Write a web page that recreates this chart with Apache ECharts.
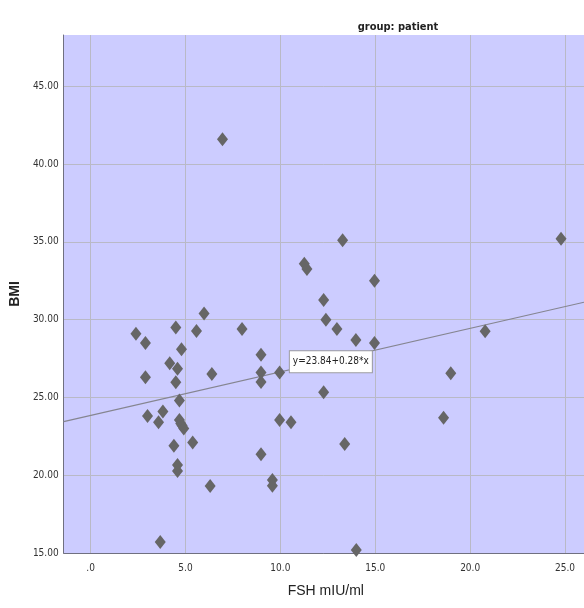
<!DOCTYPE html>
<html>
<head>
<meta charset="utf-8">
<script src="https://cdn.jsdelivr.net/npm/echarts@6/dist/echarts.min.js"></script>
<style>
  html, body { margin: 0; padding: 0; background: #fff; }
  #chart { width: 584px; height: 608px; }
</style>
</head>
<body>
<div id="chart"></div>
<script>
// FSH (mIU/ml) vs BMI, group: patient
var fsh = [6.95, 13.28, 24.79, 11.26, 11.4, 14.96, 12.28, 5.98, 12.4, 2.39,
           4.49, 5.58, 7.98, 12.98, 20.79, 2.89, 4.79, 13.98, 14.96, 8.98,
           4.17, 4.58, 6.39, 2.89, 8.98, 9.96, 8.98, 4.49, 18.98, 12.28,
           4.68, 3.81, 3.0, 3.58, 4.68, 4.75, 4.82, 4.91, 9.96, 10.56,
           18.6, 5.38, 4.39, 13.39, 8.98, 4.58, 4.58, 6.3, 9.58, 9.58,
           3.67, 14.0];
var bmi = [41.6, 35.1, 35.2, 33.6, 33.25, 32.5, 31.26, 30.4, 30.0, 29.1,
           29.5, 29.27, 29.4, 29.4, 29.25, 28.5, 28.1, 28.7, 28.5, 27.75,
           27.2, 26.85, 26.5, 26.3, 26.6, 26.6, 26.0, 25.97, 26.55, 25.33,
           24.8, 24.1, 23.8, 23.4, 23.55, 23.33, 23.2, 23.0, 23.55, 23.4,
           23.7, 22.1, 21.9, 22.0, 21.35, 20.65, 20.27, 19.3, 19.7, 19.33,
           15.7, 15.2];
var xTicks = [0, 5, 10, 15, 20, 25];
var yTicks = [15, 20, 25, 30, 35, 40, 45];

// regression line from the chart label
var intercept = 23.84;
var slope = 0.28;
var xMin = -1.42, xMax = 26;
var yMin = 15, yMax = 48.3;

var points = fsh.map(function (x, i) { return [x, bmi[i]]; });
var fitLine = [[xMin, intercept + slope * xMin], [xMax, intercept + slope * xMax]];

var narrow = '"Liberation Sans Narrow", "Arial Narrow", "DejaVu Sans Condensed", "Liberation Sans", sans-serif';
var gridColor = '#b9b9c6';

var myChart = echarts.init(document.getElementById('chart'));
var option = {
    backgroundColor: '#ffffff',
    animation: false,
    title: {
        text: 'group: patient',
        left: 393,
        top: 17,
        textAlign: 'center',
        textStyle: { fontFamily: narrow, fontSize: 11, fontWeight: 'bold', color: '#222' }
    },
    grid: {
        left: 63, right: 0, top: 35, bottom: 55,
        show: true, backgroundColor: '#ccccff', borderWidth: 0
    },
    xAxis: {
        type: 'value',
        min: xMin, max: xMax,
        name: 'FSH mIU/ml',
        nameLocation: 'middle',
        nameGap: 31,
        nameTextStyle: { fontFamily: '"Liberation Sans", Arial, sans-serif', fontSize: 14, color: '#222', padding: [0, 0, 0, 4] },
        axisLine: { lineStyle: { color: '#707080', width: 1 } },
        axisTick: { show: false, customValues: xTicks },
        axisLabel: {
            customValues: xTicks,
            margin: 10,
            fontFamily: narrow, fontSize: 10, color: '#333',
            formatter: function (v) { return v === 0 ? '.0' : v.toFixed(1); }
        },
        splitLine: { show: true, lineStyle: { color: gridColor, width: 1 } }
    },
    yAxis: {
        type: 'value',
        min: yMin, max: yMax,
        name: 'BMI',
        nameLocation: 'middle',
        nameGap: 33,
        nameTextStyle: { fontFamily: '"Liberation Sans", Arial, sans-serif', fontSize: 14, fontWeight: 'bold', color: '#222' },
        axisLine: { show: true, onZero: false, lineStyle: { color: '#707080', width: 1 } },
        axisTick: { show: false, customValues: yTicks },
        axisLabel: {
            customValues: yTicks,
            margin: 5,
            fontFamily: narrow, fontSize: 10, color: '#333',
            formatter: function (v) { return v.toFixed(2); }
        },
        splitLine: { show: true, lineStyle: { color: gridColor, width: 1 } }
    },
    series: [
        {
            type: 'line',
            data: fitLine,
            symbol: 'none',
            lineStyle: { color: '#858590', width: 1.2 },
            silent: true,
            z: 3,
            markPoint: {
                symbol: 'rect',
                symbolSize: 0,
                data: [{ coord: [10.5, 27.3] }],
                label: {
                    show: true,
                    position: 'right',
                    distance: 0,
                    formatter: 'y=23.84+0.28*x',
                    fontFamily: narrow, fontSize: 10, color: '#222',
                    backgroundColor: '#ffffff',
                    borderColor: '#9a9aa0', borderWidth: 1,
                    padding: [6, 3, 5, 3]
                }
            }
        },
        {
            type: 'scatter',
            data: points,
            symbol: 'diamond',
            symbolSize: [11, 14],
            itemStyle: { color: '#666666', opacity: 1 },
            z: 4
        }
    ]
};
myChart.setOption(option);
</script>
</body>
</html>
